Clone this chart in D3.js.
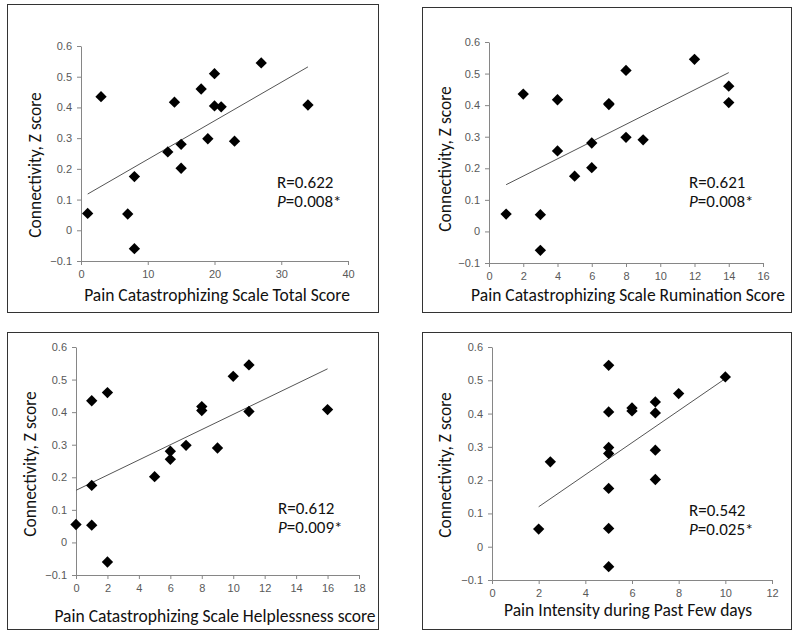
<!DOCTYPE html>
<html><head><meta charset="utf-8">
<script src="https://cdn.jsdelivr.net/npm/d3@7"></script>
<style>
body{margin:0;background:#fff;}
svg{display:block;font-family:Carlito,Lato,"Open Sans",sans-serif;}
</style></head><body>
<svg id="c" width="800" height="637"></svg>
<script>
// ---- data ----
const p1X = [1,3,7,8,8,13,14,15,15,18,19,20,20,21,23,27,34];
const p1Y = [0.055,0.435,0.053,0.175,-0.06,0.255,0.417,0.28,0.202,0.46,0.298,0.51,0.405,0.402,0.29,0.545,0.408];
const p2X = [1,2,3,3,4,4,5,6,6,7,7,8,8,9,12,14,14];
const p2Y = [0.055,0.435,0.053,-0.06,0.417,0.255,0.175,0.28,0.202,0.405,0.402,0.51,0.298,0.29,0.545,0.46,0.408];
const p3X = [0,1,1,1,2,2,5,6,6,7,8,8,9,10,11,11,16];
const p3Y = [0.055,0.435,0.175,0.053,0.46,-0.06,0.202,0.28,0.255,0.298,0.417,0.405,0.29,0.51,0.545,0.402,0.408];
const p4X = [2,2.5,5,5,5,5,5,5,5,6,6,7,7,7,7,8,10];
const p4Y = [0.053,0.255,0.545,0.405,0.298,0.28,0.175,0.055,-0.06,0.417,0.408,0.435,0.402,0.29,0.202,0.46,0.51];
// trend line endpoints [x0, y0, x1, y1]
const p1Trend = [1,0.118,34,0.532];
const p2Trend = [1,0.148,14,0.503];
const p3Trend = [0,0.16,16,0.533];
const p4Trend = [2,0.12,10,0.505];
const xTitles = ["Pain Catastrophizing Scale Total Score","Pain Catastrophizing Scale Rumination Score","Pain Catastrophizing Scale Helplessness score","Pain Intensity during Past Few days"];
const yTitle = "Connectivity, Z score";
const rLabels = ["R=0.622","R=0.621","R=0.612","R=0.542"];
const pLabels = ["=0.008*","=0.008*","=0.009*","=0.025*"];
const xDomains = [[0,40],[0,16],[0,18],[0,12]];
const xSteps = [10,2,2,2];
const yTicks = [-0.1,0,0.1,0.2,0.3,0.4,0.5,0.6];

// ---- layout ----
const panels = [
  {X:p1X,Y:p1Y,T:p1Trend, box:[7,4,378,312], xr:[81,348], yr:[261,46], xt:[217,301], yt:[35,165], lab:[277,188]},
  {X:p2X,Y:p2Y,T:p2Trend, box:[422,7,791,312], xr:[489,763], yr:[263,42], xt:[628,301], yt:[445,159], lab:[689,188]},
  {X:p3X,Y:p3Y,T:p3Trend, box:[7,332,378,629], xr:[76,359], yr:[575,347], xt:[215,622], yt:[30,464], lab:[278,514]},
  {X:p4X,Y:p4Y,T:p4Trend, box:[422,332,791,629], xr:[492,772], yr:[580,347], xt:[628,616], yt:[445,465], lab:[689,516]}
];
const svg = d3.select("#c");
const diamond = d3.symbol().type(d3.symbolSquare).size(64);

panels.forEach((p,i)=>{
  const g = svg.append("g");
  const b = p.box;
  g.append("rect").attr("x",b[0]+0.5).attr("y",b[1]+0.5).attr("width",b[2]-b[0]).attr("height",b[3]-b[1])
    .attr("fill","#fff").attr("stroke","#333").attr("stroke-width",1);
  const x = d3.scaleLinear().domain(xDomains[i]).range(p.xr);
  const y = d3.scaleLinear().domain([-0.1,0.6]).range(p.yr);
  const xt = d3.range(xDomains[i][0], xDomains[i][1]+0.001, xSteps[i]);
  const xa = g.append("g").attr("transform",`translate(0,${p.yr[0]})`)
    .call(d3.axisBottom(x).tickValues(xt).tickSize(4).tickSizeOuter(0).tickPadding(5));
  const ya = g.append("g").attr("transform",`translate(${p.xr[0]},0)`)
    .call(d3.axisLeft(y).tickValues(yTicks).tickSize(4).tickSizeOuter(0).tickPadding(5)
      .tickFormat(d=> d===0?"0":d3.format(".1f")(d)));
  [xa,ya].forEach(a=>{
    a.selectAll("path,line").attr("stroke","#868686");
    a.selectAll("text").attr("fill","#595959").style("font-size","11px");
  });
  // trend
  g.append("line").attr("x1",x(p.T[0])).attr("y1",y(p.T[1])).attr("x2",x(p.T[2])).attr("y2",y(p.T[3]))
    .attr("stroke","#555").attr("stroke-width",1);
  // points
  g.selectAll("path.pt").data(p.X.map((v,k)=>[v,p.Y[k]])).join("path").attr("class","pt")
    .attr("d",diamond).attr("transform",d=>`translate(${x(d[0])},${y(d[1])}) rotate(45)`).attr("fill","#000");
  // titles
  g.append("text").attr("x",p.xt[0]).attr("y",p.xt[1]).attr("text-anchor","middle")
    .style("font-size","17.5px").attr("fill","#111").text(xTitles[i]);
  g.append("text").attr("transform",`translate(${p.yt[0]},${p.yt[1]}) rotate(-90)`).attr("dy","0.35em")
    .attr("text-anchor","middle").style("font-size","17.5px").attr("fill","#111").text(yTitle);
  g.append("text").attr("x",p.lab[0]).attr("y",p.lab[1]).style("font-size","17px").attr("fill","#111").text(rLabels[i]);
  const t = g.append("text").attr("x",p.lab[0]).attr("y",p.lab[1]+19).style("font-size","17px").attr("fill","#111");
  t.append("tspan").style("font-style","italic").text("P");
  t.append("tspan").text(pLabels[i]);
});
</script></body></html>
